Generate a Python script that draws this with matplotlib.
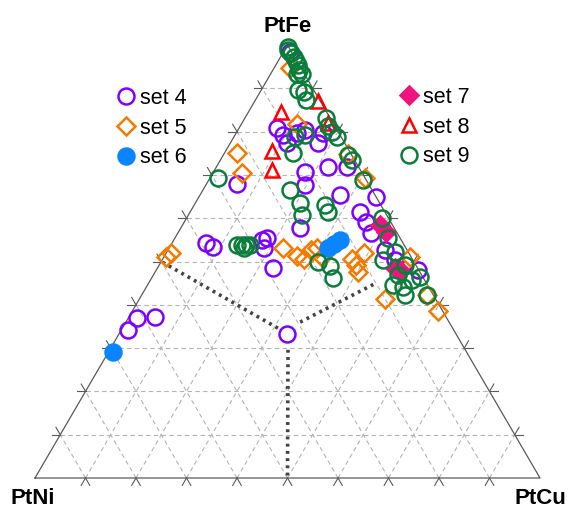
import numpy as np
import matplotlib.pyplot as plt

plt.rcParams['font.family'] = ['Liberation Sans', 'DejaVu Sans']

# compositions in %  (PtFe, PtCu); PtNi = 100 - PtFe - PtCu
set4_fe = [80.8, 79.2, 77.4, 79.7, 80.4, 77.4, 79.7, 70.7, 67.7, 71.8, 71.8, 65.4, 64.9, 61.4,
           67.9, 54.3, 53.3, 55.0, 55.4, 53.1, 48.5, 57.7, 59.1, 56.6, 52.7, 50.3, 37.0, 37.2,
           34.2, 33.3, 48.0, 98.4]
set4_cu = [7.5, 9.5, 11.2, 12.1, 13.3, 17.3, 17.2, 18.2, 19.7, 22.1, 25.9, 27.7, 35.1, 33.7,
           6.0, 6.8, 8.5, 17.5, 18.2, 18.7, 22.8, 23.6, 35.9, 38.2, 43.0, 46.1, 1.7, 5.2,
           1.3, 33.3, 51.8, 1.3]

set5_fe = [94.7, 81.8, 75.1, 70.4, 74.8, 69.3, 51.0, 52.0, 53.1, 51.3, 50.6, 52.7, 53.1, 51.0,
           50.6, 49.2, 52.0, 47.6, 41.3, 51.0, 42.3, 38.6]
set5_cu = [3.2, 11.0, 2.5, 5.8, 24.6, 30.7, 0.4, 0.9, 22.5, 26.3, 28.0, 28.4, 29.2, 31.3,
           37.5, 39.0, 39.1, 40.2, 48.6, 48.8, 56.5, 60.5]

set6_fe = [29.1, 53.1, 54.0, 55.0]
set6_cu = [0.8, 31.4, 32.2, 32.9]

set7_fe = [58.4, 56.8, 48.5, 48.0]
set7_cu = [39.1, 41.1, 47.0, 48.3]

set8_fe = [84.5, 87.1, 82.0, 75.5, 71.1]
set8_cu = [6.4, 12.5, 17.0, 9.1, 11.3]

set9_fe = [99.5, 98.8, 98.2, 97.2, 96.3, 95.4, 94.2, 93.3, 93.3, 89.6, 89.1, 87.3, 83.1, 81.3,
           79.9, 78.8, 79.2, 78.8, 75.1, 69.3, 74.6, 73.4, 68.8, 60.0, 55.4, 52.2, 66.5, 63.5,
           60.7, 63.0, 61.4, 53.8, 53.8, 53.8, 53.8, 53.1, 49.9, 49.0, 46.2, 50.3, 49.2, 44.6,
           44.1, 42.3, 45.7, 46.4, 42.3, 46.9]
set9_cu = [0.3, 0.7, 1.6, 2.7, 3.5, 4.4, 5.2, 5.2, 6.2, 7.3, 8.7, 10.0, 16.0, 17.3,
           18.8, 20.4, 13.9, 12.1, 13.6, 1.6, 24.7, 26.1, 30.6, 38.7, 42.2, 45.2, 17.2, 20.7,
           22.5, 25.9, 27.3, 13.1, 14.1, 14.9, 15.7, 14.8, 31.1, 33.9, 35.9, 43.7, 48.7, 48.6,
           50.8, 52.2, 51.8, 53.0, 56.5, 48.5]

# phase boundary lines (PtFe, PtCu)
bnd_left = ([34.6, 50.0], [30.8, 0.0])
bnd_right = ([36.0, 45.0], [34.5, 45.0])
bnd_bottom = ([29.6, 0.0], [35.3, 50.0])

H = np.sqrt(3) / 2


def tern(fe, cu):
    fe = np.asarray(fe, float) / 100
    cu = np.asarray(cu, float) / 100
    return cu + fe / 2, fe * H


fig = plt.figure(figsize=(5.68, 5.08), dpi=100)
ax = fig.add_axes([35 / 568, 30 / 508, 505 / 568, 433 / 508])
ax.set_xlim(0, 1)
ax.set_ylim(0, H)
ax.axis('off')

grid_col = '#b4b4b4'
edge_col = '#5a5a5a'
d = 0.017
for i in range(1, 10):
    f = i / 10
    for p0, p1 in [((f, 0), (f, 1 - f)), ((0, f), (1 - f, f)), ((0, 1 - f), (1 - f, 0))]:
        x0, y0 = tern(p0[0] * 100, p0[1] * 100)
        x1, y1 = tern(p1[0] * 100, p1[1] * 100)
        ax.plot([x0, x1], [y0, y1], color=grid_col, lw=0.8, ls=(0, (4, 3)), zorder=1)
        u = np.array([x1 - x0, y1 - y0])
        u = u / np.hypot(*u)
        ax.plot([x0 - d * u[0], x0], [y0 - d * u[1], y0], color=edge_col, lw=0.8,
                clip_on=False, zorder=2)
        ax.plot([x1, x1 + d * u[0]], [y1, y1 + d * u[1]], color=edge_col, lw=0.8,
                clip_on=False, zorder=2)

tx, ty = tern([0, 100, 0, 0], [0, 0, 100, 0])
ax.plot(tx, ty, color=edge_col, lw=0.9, clip_on=False, zorder=2)

for fe, cu in [bnd_left, bnd_right, bnd_bottom]:
    bx, by = tern(fe, cu)
    ax.plot(bx, by, color='#444444', lw=2.6, ls=(0, (0.8, 1.2)), zorder=3)

mew = 1.8
styles = [
    (set4_fe, set4_cu, 'set 4', dict(marker='o', ms=11.5, mfc='none', mec='#8000ff', mew=mew)),
    (set5_fe, set5_cu, 'set 5', dict(marker='D', ms=9, mfc='none', mec='#f57a00', mew=mew)),
    (set6_fe, set6_cu, 'set 6', dict(marker='o', ms=11.5, mfc='#0a84ff', mec='#0a84ff', mew=mew)),
    (set7_fe, set7_cu, 'set 7', dict(marker='D', ms=9, mfc='#f0127e', mec='#f0127e', mew=mew)),
    (set8_fe, set8_cu, 'set 8', dict(marker='^', ms=10, mfc='none', mec='#ff0000', mew=mew)),
    (set9_fe, set9_cu, 'set 9', dict(marker='o', ms=11.5, mfc='none', mec='#0a7d3a', mew=mew)),
]
handles = []
for fe, cu, lab, st in styles:
    px, py = tern(fe, cu)
    h, = ax.plot(px, py, ls='none', label=lab, clip_on=False, zorder=4, **st)
    handles.append(h)

leg_kw = dict(frameon=False, fontsize=15.5, handlelength=1.0, handletextpad=0.15,
              labelspacing=0.4, borderpad=0, borderaxespad=0, loc='upper left',
              bbox_transform=fig.transFigure)
leg1 = ax.legend(handles=handles[:3], bbox_to_anchor=(115 / 568, 1 - 88 / 508), **leg_kw)
ax.add_artist(leg1)
ax.legend(handles=handles[3:], bbox_to_anchor=(398 / 568, 1 - 87 / 508), **leg_kw)

fig.text(288 / 568, 1 - 32 / 508, 'PtFe', ha='center', va='baseline',
         fontsize=16, fontweight='bold')
fig.text(11 / 568, 1 - 504 / 508, 'PtNi', ha='left', va='baseline',
         fontsize=16, fontweight='bold')
fig.text(515 / 568, 1 - 504 / 508, 'PtCu', ha='left', va='baseline',
         fontsize=16, fontweight='bold')

fig.savefig('out.png', dpi=100)
